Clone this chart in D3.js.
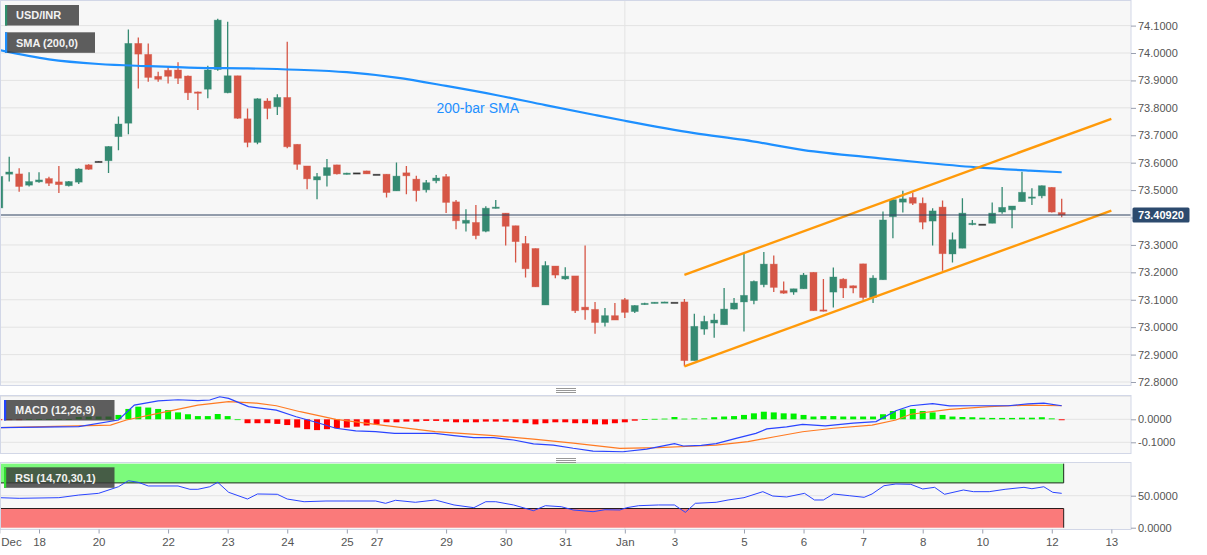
<!DOCTYPE html>
<html><head><meta charset="utf-8">
<script src="https://cdn.jsdelivr.net/npm/d3@7/dist/d3.min.js"></script>
<style>body{margin:0;background:#fff;}svg{display:block;font-family:"Liberation Sans",Arial,sans-serif;}</style>
</head><body><svg id="c" width="1207" height="555"></svg>
<script>
// ---------- DATA (4-hour candles, USD/INR) ----------
const opens=[73.435,73.558,73.559,73.518,73.530,73.542,73.530,73.516,73.529,73.592,73.605,73.607,73.695,73.744,74.035,73.995,73.915,73.937,73.938,73.916,73.858,73.868,73.940,73.855,73.917,73.760,73.674,73.825,73.804,73.838,73.667,73.588,73.537,73.553,73.592,73.558,73.563,73.570,73.558,73.558,73.497,73.563,73.540,73.501,73.534,73.549,73.457,73.379,73.382,73.350,73.434,73.416,73.370,73.305,73.287,73.081,73.223,73.176,73.187,73.073,73.065,73.017,73.042,73.100,73.057,73.083,73.088,73.091,73.091,73.092,72.878,72.993,73.015,73.009,73.066,73.092,73.097,73.155,73.230,73.133,73.128,73.140,73.200,73.063,73.128,73.175,73.151,73.231,73.108,73.173,73.403,73.456,73.473,73.452,73.387,73.438,73.267,73.288,73.374,73.376,73.379,73.420,73.428,73.458,73.472,73.479,73.510,73.418];
const highs=[73.565,73.622,73.580,73.565,73.565,73.549,73.588,73.533,73.580,73.594,73.606,73.660,73.768,74.086,74.057,74.035,73.932,73.950,73.966,73.918,73.860,73.954,74.125,74.114,73.917,73.798,73.835,73.835,73.850,74.041,73.667,73.588,73.562,73.613,73.592,73.563,73.563,73.571,73.558,73.558,73.601,73.588,73.552,73.537,73.555,73.559,73.464,73.430,73.446,73.441,73.464,73.416,73.370,73.333,73.287,73.240,73.223,73.219,73.187,73.298,73.092,73.070,73.088,73.106,73.080,73.089,73.091,73.093,73.091,73.103,73.049,73.042,73.049,73.143,73.106,73.268,73.170,73.274,73.261,73.167,73.140,73.198,73.200,73.176,73.218,73.178,73.152,73.231,73.189,73.422,73.468,73.498,73.491,73.473,73.434,73.462,73.345,73.470,73.391,73.376,73.455,73.511,73.442,73.567,73.507,73.517,73.510,73.468];
const lows=[73.430,73.531,73.494,73.513,73.527,73.515,73.489,73.513,73.522,73.574,73.604,73.562,73.645,73.704,73.871,73.895,73.895,73.889,73.887,73.829,73.792,73.835,73.935,73.853,73.760,73.656,73.667,73.758,73.774,73.653,73.574,73.503,73.467,73.513,73.557,73.557,73.563,73.559,73.558,73.473,73.497,73.485,73.458,73.491,73.525,73.416,73.357,73.349,73.321,73.346,73.433,73.298,73.236,73.181,73.147,73.081,73.178,73.173,73.052,73.027,72.976,73.002,73.026,73.033,73.052,73.082,73.087,73.091,73.091,72.857,72.878,72.972,72.961,73.009,73.064,72.984,73.084,73.146,73.128,73.122,73.118,73.140,73.060,73.057,73.072,73.106,73.124,73.100,73.088,73.173,73.324,73.418,73.446,73.357,73.298,73.206,73.236,73.288,73.372,73.376,73.379,73.414,73.361,73.458,73.446,73.470,73.418,73.401];
const closes=[73.550,73.566,73.513,73.531,73.537,73.525,73.520,73.531,73.577,73.576,73.605,73.659,73.741,74.035,73.996,73.911,73.904,73.915,73.908,73.855,73.853,73.938,74.120,73.917,73.762,73.674,73.833,73.798,73.838,73.658,73.594,73.541,73.549,73.582,73.559,73.562,73.563,73.559,73.558,73.491,73.551,73.552,73.498,73.527,73.544,73.455,73.388,73.390,73.334,73.434,73.438,73.368,73.312,73.213,73.147,73.225,73.190,73.186,73.060,73.063,73.017,73.042,73.026,73.054,73.079,73.087,73.091,73.092,73.091,72.878,73.003,73.021,73.026,73.066,73.088,73.116,73.167,73.230,73.145,73.124,73.140,73.190,73.060,73.058,73.183,73.143,73.143,73.108,73.179,73.391,73.465,73.468,73.452,73.383,73.424,73.268,73.319,73.416,73.379,73.376,73.416,73.437,73.442,73.492,73.475,73.516,73.420,73.409];

const smaIdx=[0,5,10,15,20,25,30,35,40,45,50,55,60,63,70,75,81,88.7,93.7,98.8,103.8,107];
const smaVal=[74.011,73.977,73.960,73.952,73.946,73.944,73.939,73.930,73.910,73.880,73.847,73.810,73.774,73.753,73.708,73.683,73.646,73.616,73.598,73.582,73.571,73.565];

const macdIdx=[0,8,12,13.6,16,18,20,21.2,22.2,23.1,25.1,27.9,29.9,31.9,33.9,35.9,37.9,39.8,43.9,45.8,47.8,49.8,51.8,53.8,55.8,57.8,59.8,62.8,65.2,68,68.9,70.7,72.2,74.2,76.2,77.3,79.3,80.9,83.2,86,88.3,90.3,91.8,94,95.7,97.7,101.6,103.6,105.2,107];
const macdVal=[-0.0365,-0.032,-0.003,0.062,0.080,0.085,0.081,0.084,0.098,0.091,0.055,0.040,0.011,-0.013,-0.039,-0.050,-0.054,-0.061,-0.061,-0.071,-0.080,-0.080,-0.090,-0.107,-0.112,-0.126,-0.138,-0.141,-0.130,-0.106,-0.116,-0.113,-0.106,-0.083,-0.061,-0.042,-0.033,-0.022,-0.029,-0.017,-0.010,0.037,0.059,0.068,0.058,0.059,0.059,0.067,0.070,0.059];
const signalIdx=[0,11.2,12.8,16,20,23.1,25.9,27.9,30.3,33.9,37.9,43.9,49.8,53.8,57.8,62.5,66.3,70.3,72.2,75.4,78.1,80.9,84,87.9,90.3,91.8,95.7,99.7,103.6,107];
const signalVal=[-0.0365,-0.025,-0.003,0.026,0.062,0.077,0.070,0.059,0.033,0.000,-0.022,-0.054,-0.071,-0.086,-0.104,-0.126,-0.123,-0.116,-0.112,-0.097,-0.076,-0.054,-0.039,-0.025,-0.003,0.022,0.043,0.055,0.062,0.059];
const histVal=[-0.004,-0.002,-0.003,0.001,0.001,0.001,0.001,0.001,0.010,0.011,0.012,0.012,0.019,0.045,0.055,0.051,0.045,0.040,0.030,0.022,0.014,0.014,0.023,0.014,0.000,-0.017,-0.017,-0.017,-0.020,-0.025,-0.036,-0.043,-0.047,-0.043,-0.039,-0.036,-0.032,-0.027,-0.022,-0.013,-0.013,-0.010,-0.010,-0.007,-0.007,-0.010,-0.013,-0.013,-0.013,-0.010,-0.010,-0.010,-0.013,-0.017,-0.022,-0.017,-0.013,-0.013,-0.017,-0.017,-0.022,-0.022,-0.017,-0.013,-0.006,0.001,0.002,0.003,0.010,0.003,0.004,0.004,0.009,0.012,0.014,0.019,0.026,0.033,0.030,0.026,0.025,0.019,0.012,0.014,0.014,0.012,0.012,0.012,0.012,0.022,0.036,0.043,0.045,0.036,0.030,0.019,0.012,0.010,0.009,0.007,0.006,0.006,0.006,0.007,0.007,0.009,0.004,-0.004];

const rsiIdx=[0,2,6,8,10,12,13,14,15,18,19.2,20,21.2,22,23.1,25,26,28,29,30.7,32.9,34.9,37.9,38.9,39.9,41.9,43.9,45.8,47.8,49,50,51.8,53.8,55,56.6,57.8,59.8,61,62.5,63.2,64.4,66.4,68,69.1,70.1,72.2,73.4,75,76.9,77.9,79.3,81.1,82.1,83,84,85.6,87.1,87.9,89.1,90.3,91.8,93,94.2,95.2,97.1,98.1,99.7,101.3,103.2,104,105.2,106.1,107];
const rsiVal=[46.9,45.9,46.9,51,53.7,64,73.4,70.9,65.2,65.2,60,60,64,70.9,55.3,44.8,52.7,52.2,44.8,40.6,41.7,41.7,41.7,38.1,42.8,39.7,43.3,35.5,31.3,40.6,40.6,35.5,26.6,34.4,32.8,27.7,25,28.1,27.7,31.3,34.4,35.5,35.5,24,38.1,39.7,43.3,46.9,56.3,49.5,48,53.7,43.3,43.3,52.7,50,47.5,52.7,65.6,68.3,67.8,60.5,63.1,52.2,58.9,56.3,56.3,60,63.1,60.9,64,55.3,53.7];

const channelIdx=[69,112];
const channelUpperVal=[73.191,73.760];
const channelLowerVal=[72.857,73.425];
const lastPrice=73.4092;

const priceTicks=[72.8,72.9,73.0,73.1,73.2,73.3,73.4,73.5,73.6,73.7,73.8,73.9,74.0,74.1];
const macdTicks=[0,-0.1];
const rsiTicks=[0,50];
const dateLabels=["Dec","18","20","22","23","24","25","27","29","30","31","Jan","3","5","6","7","8","10","12","13"];
const dateIdx=[0,4,10,17,23,29,35,38,45,51,57,63,68,75,81,87,93,99,106,112];

// ---------- LAYOUT ----------
const svg=d3.select("#c");
const plotL=0.5, plotR=1131;
const P={main:[0.5,385.5],macd:[395.5,453.5],rsi:[462.5,529.5]};
const x=d3.scaleLinear().domain([0,107]).range([-0.7,1061.7]);
const yM=d3.scaleLinear().domain([72.8,74.1]).range([382,25.6]);
const yD=d3.scaleLinear().domain([-0.1,0]).range([442.3,419.3]);
const yR=d3.scaleLinear().domain([0,50]).range([527.7,495.7]);
const GREEN="#358a72", RED="#d65646", DOJI="#333";

const defs=svg.append("defs");
Object.entries(P).forEach(([k,[t,b]])=>{
  defs.append("clipPath").attr("id","clip-"+k).append("rect").attr("x",plotL).attr("y",t).attr("width",plotR-plotL).attr("height",b-t);
  svg.append("rect").attr("x",plotL).attr("y",t).attr("width",plotR-plotL).attr("height",b-t).attr("fill","#f7f7f7");
});

// grids
const gMain=svg.append("g").attr("clip-path","url(#clip-main)");
const gMacd=svg.append("g").attr("clip-path","url(#clip-macd)");
const gRsi=svg.append("g").attr("clip-path","url(#clip-rsi)");
gMain.selectAll(".gl").data(priceTicks).join("line").attr("x1",plotL).attr("x2",plotR).attr("y1",d=>yM(d)).attr("y2",d=>yM(d)).attr("stroke","#e3e3e3");
gMacd.selectAll(".gl").data([0.1,0,-0.1]).join("line").attr("x1",plotL).attr("x2",plotR).attr("y1",d=>yD(d)).attr("y2",d=>yD(d)).attr("stroke","#e3e3e3");
gRsi.selectAll(".gl").data([50]).join("line").attr("x1",plotL).attr("x2",plotR).attr("y1",d=>yR(d)).attr("y2",d=>yR(d)).attr("stroke","#e3e3e3");
// month separator
[[gMain,P.main],[gMacd,P.macd],[gRsi,P.rsi]].forEach(([g,[t,b]])=>{
  g.append("line").attr("x1",x(63)).attr("x2",x(63)).attr("y1",t).attr("y2",b).attr("stroke","#e3e3e3");
});

// ---------- MAIN: candles ----------
const idx=d3.range(opens.length);
const col=i=>closes[i]>opens[i]?GREEN:(closes[i]<opens[i]?RED:DOJI);
gMain.selectAll(".wick").data(idx).join("line")
  .attr("x1",i=>x(i)).attr("x2",i=>x(i)).attr("y1",i=>yM(highs[i])).attr("y2",i=>yM(lows[i]))
  .attr("stroke",col).attr("stroke-width",1.3);
gMain.selectAll(".body").data(idx).join("rect")
  .attr("x",i=>x(i)-3.5).attr("width",7)
  .attr("y",i=>yM(Math.max(opens[i],closes[i])))
  .attr("height",i=>Math.max(1.3,Math.abs(yM(opens[i])-yM(closes[i]))))
  .attr("fill",col).attr("stroke",col).attr("stroke-opacity",0.45).attr("stroke-width",0.8);

// SMA
const sma=d3.line().x(d=>x(d[0])).y(d=>yM(d[1])).curve(d3.curveMonotoneX);
gMain.append("path").datum(smaIdx.map((k,i)=>[k,smaVal[i]])).attr("d",sma)
  .attr("fill","none").attr("stroke","#1e90ff").attr("stroke-width",2.2);
svg.append("text").attr("x",436.5).attr("y",113).attr("fill","#1e90ff").attr("font-size",14).text("200-bar SMA");

// channel
const ln=d3.line().x(d=>x(d[0])).y(d=>yM(d[1]));
[channelUpperVal,channelLowerVal].forEach(v=>{
  gMain.append("path").datum(channelIdx.map((k,i)=>[k,v[i]])).attr("d",ln)
    .attr("fill","none").attr("stroke","#ff9a0a").attr("stroke-width",2.4);
});

// last price line
svg.append("line").attr("x1",plotL).attr("x2",plotR).attr("y1",yM(lastPrice)).attr("y2",yM(lastPrice))
  .attr("stroke","#2f4260").attr("stroke-width",1.2);

// ---------- MACD ----------
gMacd.selectAll(".hb").data(histVal.map((v,i)=>[i,v])).join("rect")
  .attr("x",d=>x(d[0])-3).attr("width",6)
  .attr("y",d=>Math.min(yD(0),yD(d[1])))
  .attr("height",d=>Math.max(0.8,Math.abs(yD(d[1])-yD(0))))
  .attr("fill",d=>d[1]>=0?"#00f000":"#ff0000");
const lD=d3.line().x(d=>x(d[0])).y(d=>yD(d[1])).curve(d3.curveLinear);
gMacd.append("path").datum(signalIdx.map((k,i)=>[k,signalVal[i]])).attr("d",lD).attr("fill","none").attr("stroke","#ff7a22").attr("stroke-width",1.2);
gMacd.append("path").datum(macdIdx.map((k,i)=>[k,macdVal[i]])).attr("d",lD).attr("fill","none").attr("stroke","#2a44ff").attr("stroke-width",1.2);

// ---------- RSI ----------
const bandR=x(107.2);
gRsi.append("rect").attr("x",plotL).attr("y",yR(100)).attr("width",bandR-plotL).attr("height",yR(70)-yR(100)).attr("fill","#7cfa7c");
gRsi.append("rect").attr("x",plotL).attr("y",yR(30)).attr("width",bandR-plotL).attr("height",yR(0)-yR(30)).attr("fill","#fa7a7a");
gRsi.append("line").attr("x1",plotL).attr("x2",bandR).attr("y1",yR(70)).attr("y2",yR(70)).attr("stroke","#1c2a1c").attr("stroke-width",1);
gRsi.append("line").attr("x1",plotL).attr("x2",bandR).attr("y1",yR(30)).attr("y2",yR(30)).attr("stroke","#2a1c1c").attr("stroke-width",1);
gRsi.append("line").attr("x1",bandR).attr("x2",bandR).attr("y1",yR(100)).attr("y2",yR(70)).attr("stroke","#1c2a1c");
gRsi.append("line").attr("x1",bandR).attr("x2",bandR).attr("y1",yR(30)).attr("y2",yR(0)).attr("stroke","#2a1c1c");
gRsi.append("path").datum(rsiIdx.map((k,i)=>[k,rsiVal[i]])).attr("d",d3.line().x(d=>x(d[0])).y(d=>yR(d[1])))
  .attr("fill","none").attr("stroke","#2a44ff").attr("stroke-width",1);

// ---------- panel borders ----------
Object.values(P).forEach(([t,b])=>{
  svg.append("rect").attr("x",plotL).attr("y",t).attr("width",plotR-plotL).attr("height",b-t)
    .attr("fill","none").attr("stroke","#d2d7e7").attr("stroke-width",1);
});
// separators
[389,459].forEach(y0=>{
  [0,2,4].forEach(o=>svg.append("line").attr("x1",556).attr("x2",576).attr("y1",y0+o-0.5).attr("y2",y0+o-0.5).attr("stroke","#8c8c8c").attr("stroke-width",0.9));
});

// ---------- axes ----------
function styleAxis(g){
  g.select(".domain").remove();
  g.selectAll(".tick line").attr("stroke","#9aa0b0");
  g.selectAll(".tick text").attr("fill","#555").attr("font-size",11).attr("font-family","'Liberation Sans',Arial,sans-serif");
}
const fmt=d=>d.toFixed(4);
// the 73.4000 label sits under the last-price marker in the reference, so it is not drawn
const mainAxis=svg.append("g").attr("transform",`translate(${plotR},0)`).call(d3.axisRight(yM).tickValues(priceTicks).tickSize(5).tickPadding(2).tickFormat(d=>Math.abs(d-lastPrice)<0.02?"":fmt(d))).call(styleAxis);
svg.append("g").attr("transform",`translate(${plotR},0)`).call(d3.axisRight(yD).tickValues(macdTicks).tickSize(5).tickPadding(2).tickFormat(fmt)).call(styleAxis);
svg.append("g").attr("transform",`translate(${plotR},0)`).call(d3.axisRight(yR).tickValues(rsiTicks).tickSize(5).tickPadding(2).tickFormat(fmt)).call(styleAxis);
const xa=svg.append("g").attr("transform",`translate(0,${P.rsi[1]})`)
  .call(d3.axisBottom(x).tickValues(dateIdx).tickSize(4).tickPadding(4).tickFormat((d,i)=>dateLabels[i])).call(styleAxis);
xa.selectAll(".tick text").attr("font-size",11.5);
xa.selectAll(".tick").filter(d=>d===0).select("text").attr("text-anchor","start").attr("x",1.5);

// last price label
const ly=yM(lastPrice);
svg.append("rect").attr("x",1132.5).attr("y",ly-7.5).attr("width",57).attr("height",15).attr("rx",1.5).attr("fill","#2c4a6e");
svg.append("text").attr("x",1161).attr("y",ly+4).attr("text-anchor","middle").attr("fill","#fff").attr("font-size",11).attr("font-weight","bold").text("73.40920");

// ---------- label boxes ----------
function labelBox(x0,y0,w,h,bar,txt){
  svg.append("rect").attr("x",x0).attr("y",y0).attr("width",w).attr("height",h).attr("fill","#3b3b3b").attr("fill-opacity",0.82);
  svg.append("rect").attr("x",x0).attr("y",y0).attr("width",2.2).attr("height",h).attr("fill",bar);
  svg.append("text").attr("x",x0+11).attr("y",y0+h/2+4).attr("fill","#f2f2f2").attr("font-size",11).attr("font-weight","bold").text(txt);
}
labelBox(5,5,74,20.5,"#2f8f6c","USD/INR");
labelBox(5,32.3,90,20.5,"#1e90ff","SMA (200,0)");
labelBox(4,400,110.5,20.5,"#2244ff","MACD (12,26,9)");
labelBox(4,467.3,110.5,20.5,"#33dd33","RSI (14,70,30,1)");
</script></body></html>
